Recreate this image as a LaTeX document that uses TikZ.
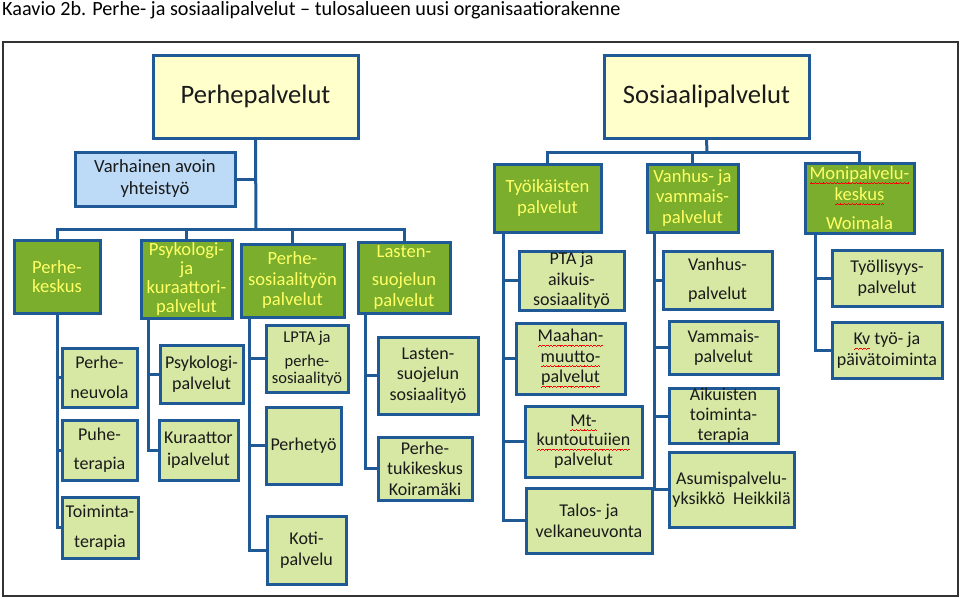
\documentclass[tikz,border=0pt]{standalone}
\usepackage{fontspec}
\setmainfont{Carlito}
\definecolor{bord}{HTML}{1F5A96}
\definecolor{lyel}{HTML}{FFFFCC}
\definecolor{mgreen}{HTML}{7AAE2C}
\definecolor{tyel}{HTML}{FFFF66}
\definecolor{lgreen}{HTML}{D6E8A4}
\definecolor{lblue}{HTML}{BDDBF7}
\definecolor{txt}{HTML}{1A1A1A}
\newcommand\wv{\rule[-4.6pt]{0.9pt}{0.6pt}\rule[-4.1pt]{0.9pt}{0.6pt}\rule[-3.6pt]{0.9pt}{0.6pt}\rule[-4.1pt]{0.9pt}{0.6pt}}
\newcommand\sq[1]{\sbox0{#1}\rlap{\usebox0}\textcolor{red}{\hbox to\wd0{\xleaders\hbox{\wv}\hfil}}}
\newcommand\bx[7]{\node[#6, minimum width={(#4-#2)*1pt}, minimum height={(#5-#3)*1pt}] (#1) at ({(#2+#4)/2},{(#3+#5)/2}) {#7};}
\tikzset{
  base/.style={draw=bord, line width=3pt, rectangle, align=center, inner sep=0pt, font=\fontsize{18}{20.5}\selectfont},
  topbox/.style={base, fill=lyel, text=txt, font=\fontsize{26.6}{30}\selectfont},
  midbox/.style={base, fill=mgreen, text=tyel, font=\fontsize{18.6}{20.5}\selectfont},
  leaf/.style={base, fill=lgreen, text=txt},
  bluebox/.style={base, fill=lblue, text=txt, font=\fontsize{18.6}{22}\selectfont},
  conn/.style={draw=bord, line width=3pt},
}
\begin{document}
\begin{tikzpicture}[x=1pt,y=-1pt]
\useasboundingbox (0,0) rectangle (960,598);
\node[anchor=base west, inner sep=0pt, font=\fontsize{20.2}{22}\selectfont] (title) at (2,15)
  {Kaavio 2b. Perhe- ja sosiaalipalvelut – tulosalueen uusi organisaatiorakenne};
\draw[line width=1.3pt, black!80] (3,42) rectangle (958,596);

% left tree
\bx{pp}{153}{55}{358}{138}{topbox}{Perhepalvelut}
\bx{va}{75}{152}{235}{206}{bluebox}{Varhainen avoin\\yhteistyö}
\bx{pk}{14}{240}{100}{313}{midbox, font=\fontsize{18.6}{19}\selectfont}{Perhe-\\keskus}
\bx{ps}{141}{240}{232}{318}{midbox, font=\fontsize{18.6}{19.3}\selectfont}{Psykologi-\\ja\\kuraattori-\\palvelut}
\bx{pso}{241}{244}{344}{317}{midbox}{Perhe-\\sosiaalityön\\palvelut}
\bx{ls}{358}{242}{450}{313}{midbox}{Lasten-\\[8pt]suojelun\\palvelut}

\bx{pn}{62}{348}{137}{407}{leaf}{Perhe-\\[9pt]neuvola}
\bx{pt}{62}{420}{137}{480}{leaf}{Puhe-\\[8pt]terapia}
\bx{tt}{62}{497}{138}{558}{leaf}{Toiminta-\\[9pt]terapia}

\bx{psp}{160}{345}{243}{403}{leaf}{Psykologi-\\palvelut}
\bx{kp}{159}{420}{238}{480}{leaf, font=\fontsize{18}{22}\selectfont}{Kuraattor\\ipalvelut}

\bx{lp}{266}{325}{348}{392}{leaf, font=\fontsize{16.5}{16.7}\selectfont}{LPTA ja\\[8pt]perhe-\\sosiaalityö}
\bx{ph}{266}{407}{341}{484}{leaf}{Perhetyö}
\bx{kot}{267}{516}{346}{584}{leaf}{Koti-\\palvelu}

\bx{lss}{378}{337}{478}{414}{leaf}{Lasten-\\suojelun\\sosiaalityö}
\bx{ptk}{378}{437}{472}{500}{leaf}{Perhe-\\tukikeskus\\Koiramäki}

% right tree
\bx{sp}{604}{55}{809}{138}{topbox}{Sosiaalipalvelut}
\bx{ty}{494}{164}{601}{232}{midbox, font=\fontsize{18.6}{21}\selectfont}{Työikäisten\\palvelut}
\bx{vv}{647}{164}{738}{232}{midbox}{Vanhus- ja\\vammais-\\palvelut}
\bx{mp}{805}{163}{914}{233}{midbox, font=\fontsize{18.6}{21}\selectfont}{\sq{Monipalvelu-}\\\sq{keskus}\\[8pt]Woimala}

\bx{pta}{519}{251}{624}{310}{leaf}{PTA ja\\aikuis-\\sosiaalityö}
\bx{mm}{516}{323}{625}{394}{leaf}{\sq{Maahan-}\\\sq{muutto-}\\\sq{palvelut}}
\bx{mt}{525}{406}{642}{477}{leaf, font=\fontsize{18}{19.5}\selectfont}{\sq{Mt-}\\\sq{kuntoutuiien}\\palvelut}
\bx{tv}{526}{488}{652}{553}{leaf, font=\fontsize{18}{21}\selectfont}{Talos- ja\\velkaneuvonta}

\bx{vp}{663}{251}{772}{309}{leaf}{Vanhus-\\[8pt]palvelut}
\bx{vmp}{669}{321}{778}{374}{leaf}{Vammais-\\palvelut}
\bx{at}{669}{389}{778}{443}{leaf, font=\fontsize{18}{20}\selectfont}{Aikuisten\\toiminta-\\terapia}
\bx{ah}{669}{452}{794}{527}{leaf}{Asumispalvelu-\\yksikkö\ \ Heikkilä}

\bx{typ}{832}{250}{942}{306}{leaf}{Työllisyys-\\palvelut}
\bx{kv}{832}{322}{942}{378}{leaf}{\sq{Kv} työ- ja\\päivätoiminta}

% connectors, left
\coordinate (busL) at (256,229);
\draw[conn] (pp.south) -- (busL);
\draw[conn] (va.east) -- (va.east -| pp.south);
\foreach \c in {pk,ps,pso,ls} \draw[conn] (busL) -| (\c.north);
\foreach \c in {pn,pt,tt} \draw[conn] (pk.south) |- (\c.west);
\foreach \c in {psp,kp} \draw[conn] ([xshift=9pt]ps.south west) |- (\c.west);
\foreach \c in {lp,ph,kot} \draw[conn] ([xshift=10pt]pso.south west) |- (\c.west);
\foreach \c in {lss,ptk} \draw[conn] ([xshift=9pt]ls.south west) |- (\c.west);

% connectors, right
\coordinate (busR) at (707,152);
\draw[conn] (sp.south) -- (busR);
\foreach \c in {ty,vv,mp} \draw[conn] (busR) -| (\c.north);
\foreach \c in {pta,mm,mt,tv} \draw[conn] ([xshift=11pt]ty.south west) |- (\c.west);
\foreach \c in {vp,vmp,at,ah} \draw[conn] ([xshift=9pt]vv.south west) |- (\c.west);
\foreach \c in {typ,kv} \draw[conn] ([xshift=12pt]mp.south west) |- (\c.west);
\end{tikzpicture}
\end{document}
